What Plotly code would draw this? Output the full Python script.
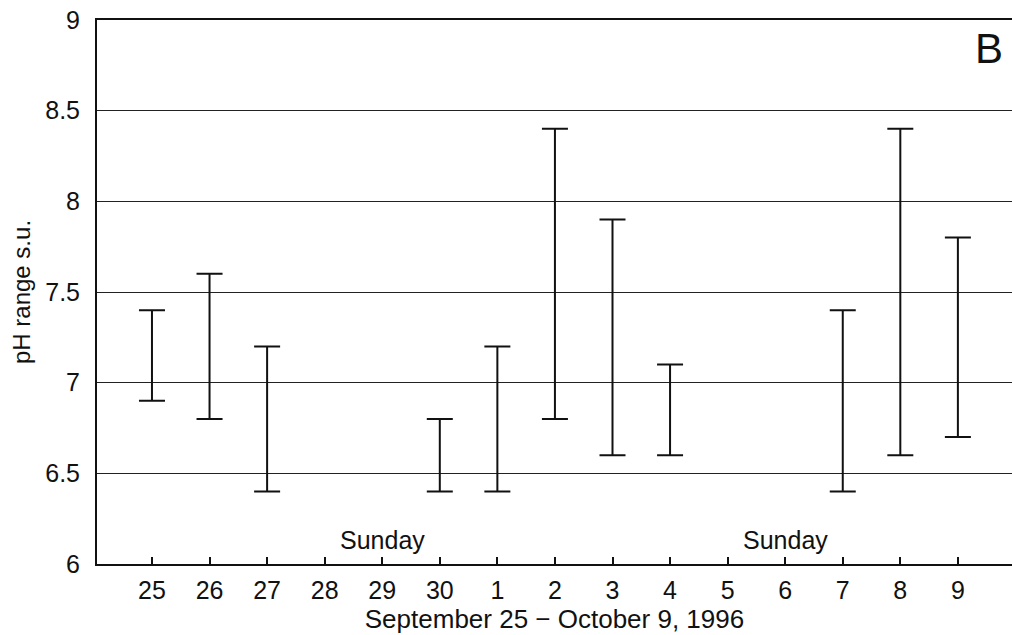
import plotly.graph_objects as go

days = ["25", "26", "27", "28", "29", "30", "1", "2", "3", "4", "5", "6", "7", "8", "9"]
ph_low = [6.9, 6.8, 6.4, None, None, 6.4, 6.4, 6.8, 6.6, 6.6, None, None, 6.4, 6.6, 6.7]
ph_high = [7.4, 7.6, 7.2, None, None, 6.8, 7.2, 8.4, 7.9, 7.1, None, None, 7.4, 8.4, 7.8]
sunday_days = ["29", "6"]
y_ticks = [6, 6.5, 7, 7.5, 8, 8.5, 9]

xs = list(range(len(days)))
span = [(h - l) if (h is not None and l is not None) else None for l, h in zip(ph_low, ph_high)]
zeros = [0 if s is not None else None for s in span]

font = "Liberation Sans, Arial, sans-serif"

fig = go.Figure()
fig.add_trace(go.Scatter(
    x=xs, y=ph_low, mode="markers",
    marker=dict(size=1, color="rgba(0,0,0,0)"),
    error_y=dict(type="data", symmetric=False, array=span, arrayminus=zeros,
                 color="#111", thickness=2, width=13),
    showlegend=False, hoverinfo="skip",
))

for d in sunday_days:
    fig.add_annotation(x=days.index(d), y=6.0, yref="y", xref="x", text="Sunday",
                       showarrow=False, yanchor="bottom", yshift=8,
                       font=dict(family=font, size=25, color="#111"))

fig.add_annotation(xref="paper", yref="paper", x=0.992, y=0.995, text="B",
                   showarrow=False, xanchor="right", yanchor="top",
                   font=dict(family=font, size=42, color="#111"))

fig.update_layout(
    width=1012, height=635,
    margin=dict(l=97, r=0, t=20, b=71),
    paper_bgcolor="white", plot_bgcolor="white",
    font=dict(family=font, color="#111"),
    xaxis=dict(
        range=[-0.955, 14.94], tickvals=xs, ticktext=days,
        showgrid=False, zeroline=False,
        showline=True, linecolor="#111", linewidth=2, mirror=True,
        ticks="inside", ticklen=7, tickwidth=2, tickcolor="#111",
        tickfont=dict(size=25), ticklabelstandoff=3,
        title=dict(text="September 25 \u2212 October 9, 1996", font=dict(size=26), standoff=5),
    ),
    yaxis=dict(
        range=[6, 9], tickvals=y_ticks, ticktext=[f"{v:g}" for v in y_ticks],
        showgrid=True, gridcolor="#222", gridwidth=1, zeroline=False,
        showline=True, linecolor="#111", linewidth=2,
        ticks="", tickfont=dict(size=25), ticklabelstandoff=10,
        ticklabeloverflow="allow",
        title=dict(text="pH range s.u.", font=dict(size=24), standoff=8),
    ),
)

fig.write_html("out.html", config={"displayModeBar": False},
               post_script="document.body.style.margin='0';document.body.style.overflow='hidden';")
